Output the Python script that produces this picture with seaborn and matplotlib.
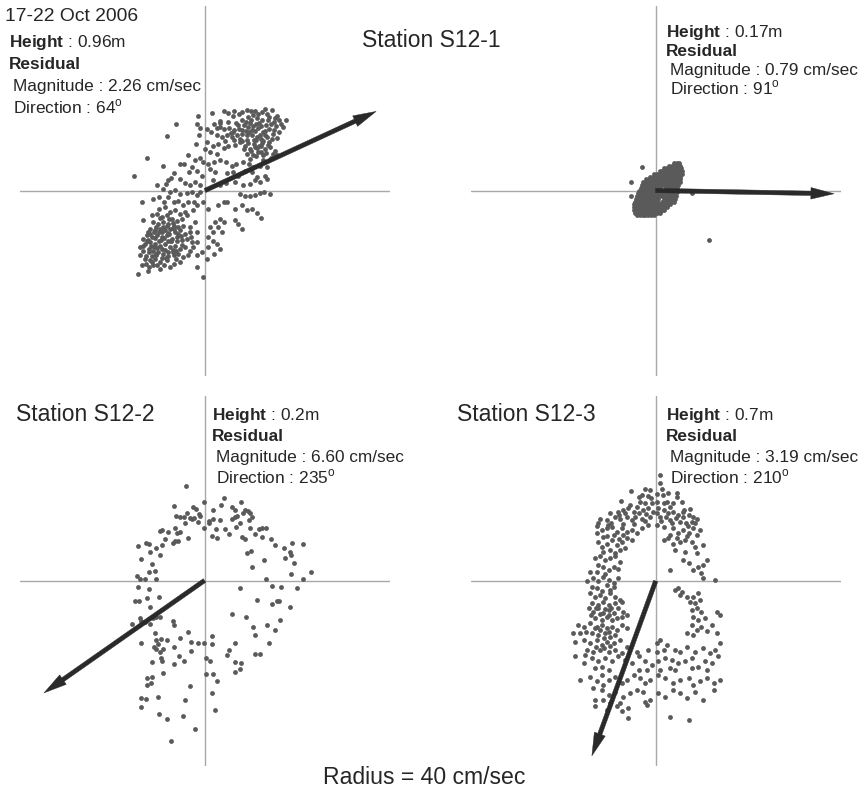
import numpy as np
import pandas as pd
import matplotlib
matplotlib.use("Agg")
import matplotlib.pyplot as plt
import seaborn as sns

# ---- data (east, north velocity in cm/sec) ----
period = "17-22 Oct 2006"
radius_label = "Radius = 40 cm/sec"
heights = ["0.96", "0.17", "0.2", "0.7"]
magnitudes = ["2.26", "0.79", "6.60", "3.19"]
directions = [64, 91, 235, 210]
# residual arrow tips as drawn (scaled for display)
arrow_east = [37.0, 38.6, -34.7, -13.8]
arrow_north = [17.1, -0.7, -24.3, -37.8]

# S12-1, upper sensor
pts_s12_1_top = [
    (-15.3, 3.2), (-12.6, 7.1), (-8.3, 11.8), (-6.3, 14.3), (-13.6, -2.5), (-13.5, -6.4),
    (-14.5, -18.1), (-12.4, -17.4), (-1.6, 16.1), (-1.7, 14.3), (-0.5, -18.7), (-1.7, -16.5),
    (1.6, 16.8), (3.2, 15.1), (4.2, 17.1), (4.9, 16.8), (6.3, 17.1), (7.3, 16.6), (9.1, 17.3),
    (9.9, 17.1), (10.8, 17.1), (11.5, 16.6), (12.3, 16.9), (13.3, 16.6), (14.5, 17.5), (15.6, 16.1),
    (17.5, 15.2), (8.1, 15.3), (9.2, 15.8), (11.2, 15.6), (12.4, 15.3), (13.7, 15.3), (14.9, 14.8),
    (16.5, 14.4), (0.5, 13.3), (1.2, 12.7), (2.6, 13.5), (3.2, 13.8), (4.0, 13.3), (5.1, 13.5),
    (6.3, 13.0), (7.4, 13.3), (8.5, 14.2), (9.4, 13.7), (10.3, 14.0), (11.4, 13.5), (12.6, 12.6),
    (13.9, 13.3), (14.9, 13.0), (16.1, 12.6), (16.9, 13.7), (-1.1, 13.5), (-1.4, 11.9), (2.5, 11.9),
    (3.6, 11.5), (4.7, 12.0), (5.8, 11.5), (7.0, 11.9), (8.1, 12.2), (9.1, 11.9), (10.2, 12.0),
    (11.2, 11.5), (12.2, 11.2), (13.3, 11.5), (14.4, 11.2), (15.5, 11.3), (-1.9, 10.0), (0.5, 10.4),
    (1.7, 9.7), (2.9, 10.1), (4.0, 9.1), (5.0, 9.7), (6.5, 9.9), (7.6, 10.4), (8.6, 9.7), (9.7, 9.0),
    (10.7, 10.1), (11.7, 9.7), (13.0, 9.0), (14.0, 9.4), (15.1, 8.6), (-0.1, 9.0), (1.1, 8.3),
    (2.5, 7.9), (9.1, 7.9), (10.3, 7.6), (11.5, 8.3), (12.6, 7.6), (14.2, 7.1), (15.5, 7.6),
    (-3.6, 7.6), (-2.1, 6.5), (-1.0, 7.0), (-0.4, 6.1), (0.7, 5.8), (1.9, 6.1), (3.2, 6.5), (4.5, 6.1),
    (5.8, 5.4), (6.8, 5.8), (8.3, 6.1), (9.6, 5.8), (10.4, 5.0), (11.9, 5.4), (13.3, 5.0), (-5.4, 5.8),
    (-4.5, 5.8), (-2.9, 5.0), (-3.4, 4.0), (-1.8, 4.3), (-0.7, 3.2), (1.1, 4.7), (2.2, 4.1), (4.7, 3.8),
    (6.1, 4.0), (7.2, 3.2), (8.6, 4.3), (10.1, 4.0), (11.2, 2.9), (13.0, 3.2), (-9.1, 5.3), (-6.8, 3.8),
    (-7.4, 2.8), (-7.9, 2.2), (-8.4, 1.4), (-5.4, 2.5), (-4.3, 1.7), (-3.2, 1.2), (-2.2, 1.8),
    (-1.1, 1.1), (-10.3, 1.2), (-9.1, 0.4), (-7.6, -0.4), (-6.5, 0.1), (-5.4, -0.7), (-4.0, -0.5),
    (-2.9, -0.4), (-1.8, -0.9), (-1.1, -0.4), (1.8, 2.2), (3.2, 1.2), (4.5, 1.7), (6.5, 1.9), (8.3, 1.1),
    (9.7, 1.4), (10.8, 2.2), (11.9, 1.9), (13.3, 2.5), (7.6, -0.7), (8.6, -1.1), (9.7, -1.2),
    (10.8, -0.9), (11.9, -0.6), (12.8, -0.4), (14.0, -0.8), (2.9, -3.2), (4.0, -2.4), (4.7, -2.5),
    (6.5, -4.0), (7.9, -3.2), (9.0, -4.3), (10.1, -4.0), (11.2, -4.8), (12.2, -6.0), (6.5, -6.3),
    (7.2, -7.2), (8.1, -8.3), (3.2, -6.1), (4.1, -6.8), (2.2, -6.8), (2.9, -7.9), (3.6, -9.0),
    (1.1, -7.9), (1.8, -9.0), (0.6, -10.1), (1.7, -10.9), (2.5, -11.5), (3.2, -12.6), (0.7, -12.2),
    (1.9, -13.7), (0.4, -14.8), (-0.6, -13.3), (-1.7, -14.0), (-2.5, -12.2), (-1.8, -11.2),
    (-3.0, -10.1), (-1.8, -9.0), (-3.2, -7.9), (-2.2, -6.8), (-4.0, -5.4), (-4.3, -4.7), (-2.7, -4.3),
    (-1.7, -3.2), (-0.5, -2.5), (0.7, -4.0), (-11.2, -1.8), (-9.9, -1.4), (-8.9, -2.4), (-7.9, -1.4),
    (-6.8, -2.5), (-5.8, -2.2), (-4.7, -3.2), (-3.6, -2.5), (-2.4, -2.4), (-9.9, -4.0), (-8.6, -3.6),
    (-7.6, -4.7), (-6.5, -4.3), (-5.4, -5.0),
    (-11.5, -5.4), (-10.4, -5.0), (-9.4, -5.8), (-8.3, -5.4), (-7.2, -6.1), (-6.1, -6.5), (-5.0, -6.1),
    (-11.2, -6.8), (-10.1, -7.2), (-9.0, -6.8), (-7.9, -7.2), (-6.8, -7.6), (-5.8, -7.9), (-4.7, -7.6),
    (-11.9, -8.3), (-10.8, -8.6), (-9.7, -8.3), (-8.6, -8.6), (-7.6, -8.3), (-6.5, -9.0), (-5.4, -8.6),
    (-4.3, -9.4), (-3.2, -9.0), (-12.6, -9.7), (-11.5, -10.1), (-10.4, -9.7), (-9.4, -10.1),
    (-8.3, -9.7), (-7.2, -10.4), (-6.1, -10.1), (-5.0, -10.8), (-4.0, -10.4), (-2.9, -11.2),
    (-13.0, -11.5), (-11.9, -11.2), (-10.8, -11.5), (-9.7, -11.9), (-8.6, -11.5), (-7.6, -12.2),
    (-6.5, -11.9), (-5.4, -12.6), (-4.3, -12.2), (-3.2, -13.0), (-13.3, -13.0), (-12.2, -13.3),
    (-11.2, -13.0), (-10.1, -13.3), (-9.0, -13.7), (-7.9, -13.3), (-6.8, -14.0), (-5.8, -13.7),
    (-4.7, -14.4), (-3.6, -14.0), (-13.0, -14.8), (-11.9, -15.1), (-10.8, -14.8), (-9.7, -15.5),
    (-8.3, -15.1), (-6.8, -15.8), (-5.4, -15.5), (-13.7, -16.2), (-12.2, -16.6), (-11.2, -16.2),
    (-9.7, -16.9), (-7.6, -16.6), (-11.5, -15.5), (-14.0, -14.0), (-14.0, -12.2),
    (-9.0, -7.9), (-8.0, -9.2), (-7.0, -8.1), (-10.0, -9.0), (-9.5, -10.8), (-8.7, -12.8), (-7.3, -11.0),
    (-6.0, -10.9), (-11.0, -12.3), (-10.5, -14.0), (-12.8, -14.2), (-8.4, -14.5), (-6.2, -13.0),
    (-5.1, -9.8), (-4.9, -11.7), (-11.8, -9.3), (-12.3, -10.6), (-7.7, -6.2), (-9.8, -6.0), (-6.9, -7.1),
    (8.8, 14.9), (10.0, 15.2), (11.0, 14.4), (12.0, 13.9), (9.6, 12.6), (10.8, 12.8), (11.8, 12.1),
    (13.0, 12.9), (8.0, 13.1), (9.0, 11.0), (10.5, 10.9), (12.6, 10.6), (13.6, 9.8), (11.2, 9.2),
    (12.1, 8.3), (9.9, 8.6), (14.3, 14.3), (6.8, 14.6), (5.6, 12.4), (7.6, 11.2),
    (6.0, 16.2), (7.9, 16.9), (10.4, 16.3), (12.9, 17.6), (13.9, 16.0), (15.1, 15.6), (16.0, 15.3),
    (7.1, 14.1), (9.7, 14.6), (11.7, 14.7), (13.2, 14.1), (15.4, 13.9), (6.1, 12.6), (8.8, 12.9),
    (10.1, 13.1), (11.0, 11.0), (12.9, 11.9), (14.8, 12.2), (7.9, 10.8), (9.2, 10.2), (12.3, 10.2),
    (13.9, 10.4), (10.8, 9.4), (12.0, 9.6), (8.4, 8.9), (13.2, 8.2), (14.6, 8.0), (11.0, 7.5),
    (9.8, 6.8), (12.5, 6.7), (3.2, 14.5), (5.0, 14.9), (2.0, 14.4), (4.4, 10.6), (6.3, 10.9),
    (-12.6, -11.0), (-11.6, -12.0), (-10.4, -12.4), (-9.2, -12.7), (-8.1, -11.0), (-7.0, -12.8),
    (-10.0, -11.0), (-8.9, -10.2), (-7.8, -9.5), (-9.2, -9.0), (-10.9, -10.2), (-12.1, -12.6),
    (-13.5, -12.1), (-10.6, -13.8), (-9.4, -14.5), (-8.0, -14.2), (-7.0, -13.4), (-11.5, -14.2),
    (-12.7, -15.8), (-10.3, -16.0), (-8.9, -16.2), (-6.3, -14.8), (-5.9, -9.3), (-6.7, -8.3),
    (-8.2, -7.7), (-10.6, -7.9), (-12.4, -8.9), (-13.4, -10.4), (-11.0, -9.0), (-7.4, -10.9),
]

# S12-1, lower sensor: compact blob, read row by row (north, [east ...])
rows_s12_1_low = [
    (6.0, [4.0, 4.6, 5.1]),
    (5.4, [3.0, 3.6, 4.2, 4.8, 5.4]),
    (4.8, [1.9, 2.5, 3.1, 3.7, 4.3, 4.9, 5.5]),
    (4.2, [0.9, 1.5, 2.1, 2.7, 3.3, 3.9, 4.5, 5.1, 5.7]),
    (3.6, [-0.3, 0.3, 0.9, 1.5, 2.1, 2.7, 3.3, 3.9, 4.5, 5.1, 5.7]),
    (3.0, [-1.2, -0.6, 0.0, 0.6, 1.2, 1.8, 2.4, 3.0, 3.6, 4.2, 4.8, 5.4]),
    (2.4, [-2.0, -1.4, -0.8, -0.2, 0.4, 1.0, 1.6, 2.2, 2.8, 3.4, 4.0, 4.6, 5.2]),
    (1.8, [-2.6, -2.0, -1.4, -0.8, -0.2, 0.4, 1.0, 1.6, 2.2, 2.8, 3.4, 4.0, 4.6, 5.3]),
    (1.2, [-2.9, -2.3, -1.7, -1.1, -0.5, 0.1, 0.7, 1.3, 1.9, 2.5, 3.1, 3.7, 4.3, 4.9]),
    (0.6, [-3.2, -2.6, -2.0, -1.4, -0.8, -0.2, 0.4, 1.0, 2.2, 2.8, 3.4, 4.0, 4.6]),
    (0.0, [-3.5, -2.9, -2.3, -1.7, -1.1, -0.5, 0.1, 0.7, 1.3, 1.9, 2.5, 3.1, 3.7, 4.3, 4.9]),
    (-0.6, [-3.8, -3.2, -2.6, -2.0, -1.4, -0.8, -0.2, 0.4, 1.0, 1.6, 2.2, 2.6, 3.2, 3.8, 4.4]),
    (-1.2, [-4.1, -3.5, -2.9, -2.3, -1.7, -1.1, -0.5, 0.1, 0.7, 1.5, 2.1, 2.7, 3.3, 3.9, 4.5]),
    (-1.8, [-4.3, -3.7, -3.1, -2.5, -1.9, -1.3, -0.7, -0.1, 0.5, 1.8, 2.4, 3.0, 3.6, 4.2]),
    (-2.4, [-4.5, -3.9, -3.3, -2.7, -2.1, -1.5, -0.9, -0.3, 0.3, 1.5, 2.1, 2.7, 3.3, 3.9]),
    (-3.0, [-4.6, -4.0, -3.4, -2.8, -2.2, -1.6, -1.0, -0.4, 0.2, 0.8, 1.4, 2.0, 2.6, 3.2]),
    (-3.6, [-4.7, -4.1, -3.5, -2.9, -2.3, -1.7, -1.1, -0.5, 0.1, 0.7, 1.3, 1.9, 2.5]),
    (-4.2, [-4.7, -4.1, -3.5, -2.9, -2.3, -1.7, -1.1, -0.5, 0.1, 0.7, 1.3, 1.9]),
    (-4.8, [-4.5, -3.9, -3.3, -2.7, -2.1, -1.5, -0.9, -0.3, 0.3, 0.9]),
    (-5.4, [-4.0, -3.4, -2.8, -2.2, -1.6, -1.0, -0.4]),
]
pts_s12_1_low_outliers = [(-3.0, 5.1), (-5.2, 1.8), (-5.2, -1.1), (11.5, -10.7), (7.9, -0.6)]

pts_s12_2 = [
    (-4.0, 20.5), (-0.1, 17.0), (4.2, 17.9), (3.5, 16.4), (1.8, 15.3), (7.8, 16.9), (-6.5, 16.1),
    (-2.4, 15.8), (-1.9, 15.5), (-0.9, 14.0), (-6.2, 13.9), (-5.3, 13.8), (-4.5, 13.7), (-3.8, 14.7),
    (-3.2, 13.5), (-2.8, 13.3), (-2.3, 13.5), (-1.2, 14.4), (-1.3, 12.7), (-4.3, 12.5), (-0.1, 11.4),
    (1.0, 12.8), (1.9, 13.2), (0.9, 12.4), (2.5, 11.2), (2.7, 9.2), (1.6, 9.6), (3.3, 13.0), (4.5, 11.2),
    (5.4, 10.0), (6.0, 15.8), (6.5, 15.3), (6.6, 13.8), (5.9, 13.3), (7.1, 14.0), (7.7, 12.5),
    (8.4, 14.5), (8.8, 15.3), (9.3, 15.0), (9.9, 14.6), (9.6, 13.0), (10.2, 13.8), (8.0, 9.4), (8.8, 8.9),
    (6.8, 11.6), (9.9, 11.4), (10.9, 10.0), (11.7, 11.2), (12.5, 11.4), (13.3, 11.4), (12.4, 9.3),
    (14.3, 8.9), (15.3, 7.6), (9.2, 6.0), (10.1, 6.4), (10.2, 3.0), (12.9, 4.5), (17.2, 7.1), (19.0, 8.1),
    (18.5, 6.2), (21.2, 7.8), (17.5, 4.8), (18.7, 5.5), (19.4, 3.8), (18.6, 1.4), (23.1, 1.9),
    (21.2, 0.4), (13.2, 0.3), (7.6, -1.6), (14.5, -1.1), (16.5, -1.3), (20.0, -1.7), (-9.2, 11.0),
    (-9.6, 10.7), (-7.8, 10.5), (-8.6, 8.9), (-6.3, 11.4), (-6.0, 10.3), (-5.3, 10.4), (-6.9, 8.1),
    (-6.4, 8.5), (-5.8, 8.6), (-3.6, 9.1), (-9.2, 7.6), (-10.4, 7.1), (-11.7, 6.2), (-12.6, 8.1),
    (-12.1, 7.9), (-14.3, 7.4), (-13.7, 4.7), (-11.4, 3.5), (-9.7, 5.5), (-12.0, 1.9), (-10.6, 2.0),
    (-14.5, 0.9), (-13.9, 0.3), (-12.9, 0.4), (-10.4, 0.4), (-14.4, -1.4), (-12.1, -1.9), (-9.9, -3.6),
    (-12.4, -3.7), (-15.1, -4.5), (-14.1, -4.4), (-11.7, -5.8), (-14.0, -8.1), (-13.8, -8.7),
    (-12.8, -8.9), (-11.7, -9.3), (-11.2, -8.2), (-10.4, -7.8), (-9.6, -7.8), (-15.6, -9.4),
    (-6.9, -8.8), (-6.6, -9.7), (-10.7, -11.4), (-10.4, -12.9), (-9.4, -12.6), (-8.2, -12.9),
    (-13.8, -13.5), (-11.0, -14.3), (-10.1, -13.7), (-10.5, -14.9), (-9.6, -15.4), (-9.0, -14.8),
    (-9.3, -16.7), (-9.2, -17.5), (-8.9, -19.9), (-11.4, -17.6), (-6.6, -14.3), (-5.3, -12.4),
    (-3.5, -11.2), (-3.0, -13.2), (-1.4, -13.6), (-0.2, -13.5), (1.7, -12.0), (1.7, -13.8),
    (-3.0, -15.3), (-5.5, -16.3), (-4.5, -17.4), (-6.6, -18.0), (0.3, -16.7), (1.2, -17.4),
    (0.4, -20.2), (1.9, -20.2), (2.7, -21.8), (1.6, -24.3), (2.2, -27.9), (-3.1, -22.8), (-4.2, -25.8),
    (-4.7, -29.4), (-2.0, -32.0), (-7.3, -34.8), (-8.2, -29.9), (-9.9, -28.9), (-10.0, -25.2),
    (-13.8, -27.4), (-13.8, -25.5), (-12.7, -25.6), (-12.5, -22.6), (-11.5, -22.2), (-12.5, -21.0),
    (-11.3, -20.8), (6.0, -7.3), (8.9, -7.9), (11.4, -4.2), (10.5, -10.0), (11.0, -11.7), (13.6, -9.6),
    (15.3, -10.7), (16.3, -8.5), (14.7, -5.0), (15.6, -4.5), (16.1, -4.4), (18.4, -5.7), (13.9, -13.5),
    (10.9, -15.9), (12.0, -15.8), (6.6, -13.6), (5.4, -15.1), (4.9, -16.2), (6.6, -17.7), (7.8, -17.8),
    (7.7, -19.2), (6.6, -19.8),
]

pts_s12_3 = [
    (0.9, 21.1), (1.3, 20.0), (0.2, 18.9), (-1.2, 19.7), (-1.7, 18.4), (-3.0, 18.6), (-3.7, 18.2),
    (-5.3, 19.4), (-3.4, 17.1), (-5.5, 16.4), (-7.6, 17.3), (-2.3, 16.8), (-0.9, 16.8), (0.2, 17.1),
    (1.7, 16.8), (2.4, 17.1), (4.5, 19.1), (4.5, 18.2), (3.1, 16.1), (3.8, 16.8), (5.6, 17.1),
    (6.1, 15.3), (-4.1, 16.1), (0.9, 22.9),
    (-12.0, 13.3), (-12.4, 12.5), (-10.6, 13.2), (-9.9, 14.6), (-8.8, 13.9), (-8.1, 15.0), (-7.0, 15.3),
    (-5.9, 15.7), (-4.8, 15.0), (-3.7, 14.6), (-2.7, 15.3), (-1.6, 15.7), (-0.5, 15.0), (0.6, 15.7),
    (1.7, 15.3), (2.7, 14.6), (3.8, 15.0), (4.9, 14.3), (6.0, 13.9), (7.1, 14.3), (8.1, 13.9),
    (8.9, 13.5), (-7.7, 13.5), (-6.3, 13.9), (-5.2, 13.2), (-3.0, 13.5), (-1.2, 13.9), (0.9, 13.9),
    (3.1, 13.2), (5.3, 12.8), (7.8, 12.8),
    (-12.7, 10.3), (-11.7, 11.0), (-10.6, 11.4), (-9.5, 11.7), (-8.4, 10.7), (-7.3, 11.4), (-6.3, 10.7),
    (-5.2, 11.0), (-4.1, 10.3), (-3.0, 11.4), (-1.6, 12.1), (0.2, 12.1), (1.7, 11.7), (3.8, 11.4),
    (4.9, 10.3), (6.0, 11.0), (7.1, 10.3), (8.1, 11.4), (8.9, 9.9), (9.6, 11.0), (-11.3, 9.6),
    (-9.1, 9.9), (-7.0, 9.9),
    (-12.4, 8.5), (-11.7, 7.4), (-10.6, 8.1), (-9.5, 8.9), (-8.4, 7.8), (-7.3, 8.5), (-6.3, 9.2),
    (-5.2, 8.9), (-11.3, 6.3), (-9.9, 6.7), (-8.8, 6.0), (-7.7, 6.7), (-6.6, 7.1), (1.7, 8.9),
    (2.7, 9.2), (3.8, 8.1), (5.3, 8.5), (6.3, 8.9), (7.8, 8.5), (8.5, 7.4), (4.2, 6.7), (6.3, 6.3),
    (8.9, 6.0), (10.3, 7.8),
    (-13.1, 4.9), (-12.0, 5.3), (-10.9, 4.5), (-9.9, 4.9), (-8.8, 5.3), (-7.7, 4.2), (-12.4, 3.5),
    (-11.3, 3.1), (-10.2, 2.4), (-9.1, 3.1), (-8.1, 2.7), (3.1, 2.4), (6.0, 4.5), (7.1, 3.8),
    (8.1, 2.4), (9.2, 3.1), (10.3, 3.5), (11.0, 4.5), (9.9, 1.7), (-14.2, 2.0),
    (-14.9, -0.1), (-13.5, 0.6), (-12.4, -0.1), (-11.3, 0.9), (-10.2, 0.2), (-9.1, -0.5), (-8.1, 0.6),
    (-13.8, -1.2), (-12.7, -1.6), (-10.6, -0.9), (-9.1, -1.2), (12.8, 0.2), (10.3, 0.6), (4.9, -1.6),
    (5.6, -2.3), (4.2, -1.9),
    (-14.2, -2.7), (-13.1, -3.4), (-12.0, -3.0), (-10.9, -3.7), (-9.9, -2.7), (-8.8, -3.4), (-7.7, -4.1),
    (-13.8, -4.8), (-12.4, -5.2), (-11.3, -4.5), (-10.2, -5.2), (-8.8, -4.8), (-7.3, -4.5), (5.3, -3.0),
    (6.7, -3.4), (8.1, -3.4), (9.2, -2.7), (9.6, -4.1), (8.5, -4.8), (7.4, -4.5),
    (-14.5, -5.9), (-13.5, -6.6), (-12.4, -5.9), (-11.3, -7.0), (-10.2, -6.3), (-9.1, -7.0), (-8.1, -5.9),
    (-7.0, -6.6), (-13.1, -8.1), (-11.7, -8.4), (-10.6, -7.7), (-9.5, -8.4), (-8.4, -8.1), (-7.3, -7.7),
    (-6.3, -7.3), (7.8, -6.3), (8.9, -5.9), (9.9, -6.6), (8.1, -7.7), (9.2, -8.4), (10.7, -8.1),
    (13.2, -6.6), (13.9, -7.3),
    (-16.7, -9.5), (-15.6, -9.9), (-14.2, -9.1), (-12.7, -9.9), (-11.7, -9.5), (-10.6, -10.2),
    (-9.5, -9.9), (-8.4, -10.6), (-7.3, -9.5), (-6.3, -10.2), (-16.3, -11.3), (-13.8, -11.3),
    (-12.4, -11.7), (-10.9, -11.3), (-9.9, -12.0), (-8.8, -11.7), (7.8, -9.5), (8.9, -10.6),
    (9.9, -9.9), (11.0, -10.9), (12.1, -9.5), (13.2, -11.3), (6.7, -11.3), (8.1, -11.7),
    (-17.8, -11.3), (-17.4, -13.1), (-15.6, -12.7), (-14.2, -13.5), (-12.7, -12.7), (-11.7, -13.8),
    (-10.6, -13.1), (-9.1, -13.5), (-7.7, -12.7), (-6.3, -14.2), (-14.9, -14.9), (-13.5, -15.3),
    (-12.0, -14.9), (-10.2, -15.3), (-8.8, -14.9), (-7.3, -15.6), (-4.1, -15.3), (-1.6, -14.9),
    (0.2, -13.5), (0.9, -12.7), (2.4, -13.8), (4.2, -14.9), (5.3, -15.3), (6.7, -14.2), (8.5, -15.3),
    (10.3, -14.5), (11.7, -15.6), (12.8, -14.9), (13.9, -13.5), (0.2, -15.3), (1.7, -14.9),
    (-17.4, -16.3), (-15.3, -16.0), (-13.8, -16.7), (-12.4, -17.4), (-10.9, -16.7), (-9.5, -17.4),
    (-8.1, -16.3), (-6.6, -17.1), (-5.2, -17.8), (-3.7, -16.3), (-2.3, -17.4), (-0.9, -18.1),
    (0.6, -17.4), (2.0, -16.7), (3.5, -17.1), (4.9, -17.8), (6.3, -17.4), (7.8, -16.7), (9.2, -18.5),
    (10.7, -17.4), (12.1, -17.8), (13.5, -16.3), (-15.6, -17.8), (-13.1, -18.9), (-11.7, -18.5),
    (-10.2, -19.2), (-3.7, -19.2), (-1.9, -19.2), (0.9, -19.2), (3.1, -18.9), (4.2, -19.2),
    (7.8, -18.9), (11.0, -19.2),
    (-16.3, -21.4), (-14.2, -20.7), (-12.7, -21.7), (-11.7, -20.3), (-10.2, -21.4), (-8.8, -20.7),
    (-7.3, -22.1), (-6.3, -21.4), (-4.8, -20.3), (-3.4, -21.0), (-2.3, -22.1), (-1.2, -21.4),
    (0.6, -20.3), (2.0, -21.0), (3.8, -22.1), (5.3, -21.4), (7.1, -21.0), (8.1, -22.5), (9.6, -21.7),
    (11.0, -21.0), (12.5, -22.1), (13.9, -21.4), (-13.5, -23.2), (-11.3, -22.5),
    (-11.7, -23.5), (-10.2, -24.6), (-8.8, -23.9), (-7.0, -25.0), (-5.5, -24.3), (-4.1, -23.5),
    (-2.7, -23.9), (-1.2, -25.7), (0.6, -24.3), (2.0, -25.0), (3.8, -23.5), (5.3, -24.3), (6.7, -25.3),
    (8.5, -23.9), (10.3, -25.7), (12.5, -23.5), (-13.1, -25.7), (-11.3, -25.7), (-9.9, -26.4),
    (-13.1, -27.1), (-10.6, -27.9), (-8.4, -27.1), (-7.3, -28.2), (-5.9, -27.5), (-5.9, -29.7),
    (-2.3, -26.1), (-1.9, -26.8), (3.1, -29.3), (7.1, -30.0), (-7.7, -26.4),
    (-8.0, 14.3), (-6.6, 14.6), (-4.4, 13.9), (-2.0, 14.4), (0.2, 14.6), (2.2, 13.9), (4.4, 13.7),
    (6.6, 12.6), (-9.6, 12.6), (-7.0, 12.4), (-4.6, 12.4), (-2.3, 13.0), (1.2, 13.0), (3.6, 12.5),
    (5.8, 14.9), (7.4, 15.6), (-1.0, 18.0), (1.5, 18.5), (-2.4, 19.8), (2.7, 19.0), (-10.5, 9.8),
    (-8.0, 9.0), (-12.8, 11.8), (-10.3, 12.2), (7.0, 12.0), (8.6, 12.5), (6.8, 9.7), (4.5, 9.4),
    (3.0, 10.0), (-12.8, 2.0), (-11.0, 1.5), (-9.8, -2.0), (-11.6, -2.2), (-13.0, -5.8), (-11.0, -6.0),
    (-9.6, -5.8), (-12.0, -7.2), (-10.0, -7.4), (-14.0, -7.4), (-12.0, -10.5), (-10.0, -11.0),
    (-15.0, -11.0), (-13.2, -10.2), (-11.2, -12.3), (-9.8, -14.0), (-13.0, -14.2), (-11.2, -14.4),
]

pts_s12_1_low = [(e, n) for n, es in rows_s12_1_low for e in es] + pts_s12_1_low_outliers
panel_points = [pts_s12_1_top, pts_s12_1_low, pts_s12_2, pts_s12_3]

# ---- layout (pixels of the 863x789 canvas) ----
W, H = 863, 789
R_PX = 185
R_DATA = 40
centers = [(205, 190.5), (655.5, 190.5), (204.5, 580.5), (655.7, 581)]
info_x = [9, 666, 212, 666]
info_y0 = [47, 37, 420, 420]
info_dy = [22, 19, 21, 21]
titles = [("Station S12-1", 362, 47), ("Station S12-2", 16, 421), ("Station S12-3", 457, 421)]

sns.set_style("white")
plt.rcParams["font.family"] = ["Liberation Sans", "DejaVu Sans"]
plt.rcParams["mathtext.fontset"] = "custom"
plt.rcParams["mathtext.rm"] = "Liberation Sans"
plt.rcParams["mathtext.bf"] = "Liberation Sans:bold"

fig = plt.figure(figsize=(W / 100, H / 100), dpi=100)
fig.patch.set_facecolor("white")


def fx(x):
    return x / W


def fy(y):
    return 1 - y / H


for i, pts in enumerate(panel_points):
    cx, cy = centers[i]
    ax = fig.add_axes([fx(cx - R_PX), fy(cy + R_PX), 2 * R_PX / W, 2 * R_PX / H])
    ax.set_xlim(-R_DATA, R_DATA)
    ax.set_ylim(-R_DATA, R_DATA)
    ax.axis("off")
    ax.axhline(0, color="#a8a8a8", lw=1.0, zorder=1)
    ax.axvline(0, color="#a8a8a8", lw=1.0, zorder=1)
    df = pd.DataFrame(pts, columns=["east", "north"])
    sns.scatterplot(data=df, x="east", y="north", ax=ax, s=12, color="#5a5a5a",
                    linewidth=0, zorder=2, legend=False)
    ax.arrow(0, 0, arrow_east[i], arrow_north[i], width=0.95, head_width=2.5,
             head_length=5.0, length_includes_head=True, fc="#2a2a2a", ec="#2a2a2a",
             lw=0.3, zorder=3)

    x0, y0, dy = info_x[i], info_y0[i], info_dy[i]
    fs = 12.4
    fig.text(fx(x0), fy(y0), r"$\mathbf{Height}$ : %sm" % heights[i], fontsize=fs, va="baseline")
    fig.text(fx(x0), fy(y0 + dy), "Residual", fontsize=fs, fontweight="bold", va="baseline")
    fig.text(fx(x0 + 4), fy(y0 + 2 * dy), "Magnitude : %s cm/sec" % magnitudes[i],
             fontsize=fs, va="baseline")
    fig.text(fx(x0 + 4), fy(y0 + 3 * dy), r"Direction : %d$^{\mathrm{o}}$" % directions[i],
             fontsize=fs, va="baseline")

for label, x, y in titles:
    fig.text(fx(x), fy(y), label, fontsize=16.5, va="baseline")

fig.text(fx(5), fy(21), period, fontsize=13.9, va="baseline")
fig.text(fx(424), fy(784), radius_label, fontsize=16.6, ha="center", va="baseline")

fig.savefig("out.png", dpi=100, facecolor="white")
